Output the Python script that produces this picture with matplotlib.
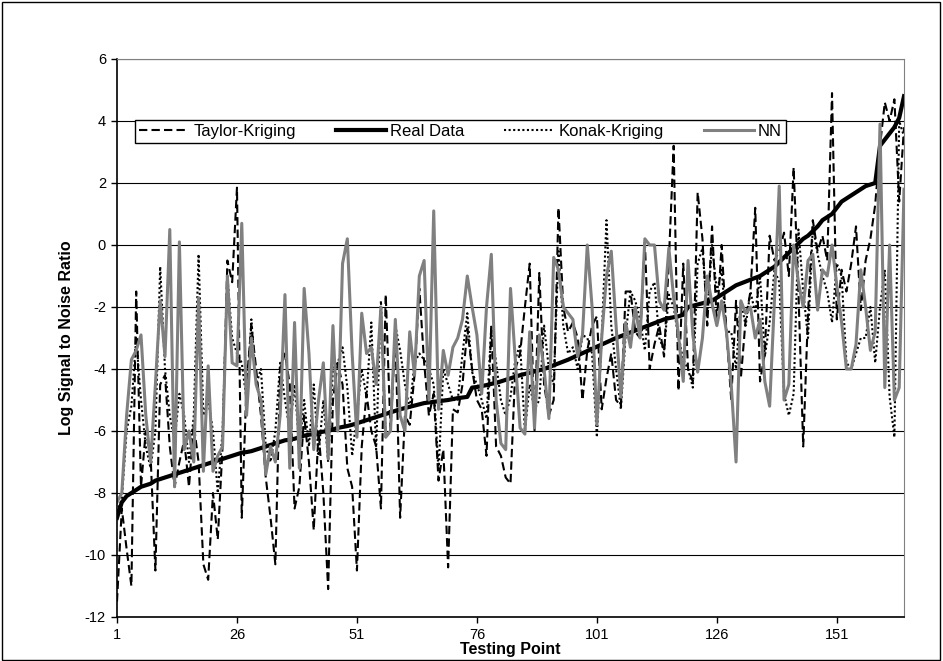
import matplotlib
matplotlib.use("Agg")
import matplotlib.pyplot as plt
import numpy as np
from matplotlib.patches import Rectangle

plt.rcParams["font.family"] = ["Liberation Sans", "DejaVu Sans"]
plt.rcParams["axes.unicode_minus"] = False

# testing points 1..165
points = np.arange(1, 166)

taylor = [
    -11.5, -8.5, -9.8, -11.0, -1.5, -7.8, -6.0, -6.8, -10.5, -4.5,
    -4.2, -6.5, -7.8, -7.0, -6.3, -7.8, -5.8, -7.0, -10.3, -10.8,
    -8.0, -9.5, -6.5, -0.5, -1.2, 1.85, -8.8, -4.5, -2.6, -4.0,
    -5.5, -7.5, -8.8, -10.3, -4.0, -3.5, -4.5, -8.5, -7.8, -5.5,
    -7.0, -9.2, -6.0, -8.0, -11.1, -5.0, -3.8, -4.5, -7.2, -7.8,
    -10.5, -6.5, -4.8, -6.0, -6.5, -8.5, -1.6, -6.0, -2.8, -8.8,
    -5.5, -5.8, -4.2, -1.4, -3.8, -5.5, -4.8, -7.6, -6.6, -10.4,
    -5.3, -5.4, -4.5, -2.7, -4.0, -5.0, -5.3, -6.8, -2.6, -6.5,
    -6.8, -7.5, -7.7, -4.0, -3.5, -2.0, -0.6, -6.0, -0.9, -4.5,
    -5.5, -5.0, 1.2, -2.0, -2.8, -2.5, -3.0, -5.0, -3.4, -2.6,
    -2.3, -5.3, -4.3, -3.5, -5.0, -5.2, -1.5, -1.5, -2.8, -3.0,
    0.1, -4.0, -3.2, -2.6, -3.6, -0.5, 3.2, -4.7, -0.6, -4.0,
    -4.4, 1.7, 0.2, -2.6, 0.6, -2.5, 0.0, -2.8, -5.0, -1.8,
    -4.3, -2.4, -1.5, 1.2, -4.4, -3.5, 0.3, -0.5, -0.2, 0.4,
    -1.0, 2.5, -1.5, -6.5, -2.2, 0.8, -0.2, 0.3, -0.5, 4.9,
    -2.4, -0.8, -1.5, -0.6, 0.6, -2.1, -0.5, 0.2, 1.3, 3.2,
    4.6, 4.0, 4.7, 1.4, 3.8,
]

real_data = [
    -8.8, -8.3, -8.1, -8.0, -7.9, -7.8, -7.75, -7.7, -7.6, -7.55,
    -7.5, -7.45, -7.4, -7.35, -7.3, -7.25, -7.2, -7.15, -7.1, -7.05,
    -7.0, -6.95, -6.9, -6.85, -6.8, -6.75, -6.7, -6.68, -6.65, -6.6,
    -6.55, -6.5, -6.45, -6.4, -6.35, -6.3, -6.28, -6.25, -6.2, -6.15,
    -6.12, -6.1, -6.05, -6.02, -6.0, -5.95, -5.9, -5.87, -5.84, -5.8,
    -5.75, -5.7, -5.65, -5.6, -5.55, -5.5, -5.45, -5.4, -5.35, -5.3,
    -5.26, -5.22, -5.18, -5.14, -5.1, -5.08, -5.06, -5.04, -5.02, -5.0,
    -4.97, -4.94, -4.92, -4.9, -4.6, -4.58, -4.55, -4.52, -4.48, -4.45,
    -4.4, -4.35, -4.3, -4.25, -4.2, -4.16, -4.12, -4.08, -4.04, -4.0,
    -3.94, -3.88, -3.82, -3.76, -3.7, -3.63, -3.56, -3.49, -3.42, -3.35,
    -3.28, -3.21, -3.14, -3.07, -3.0, -2.94, -2.88, -2.82, -2.76, -2.7,
    -2.64, -2.58, -2.52, -2.46, -2.4, -2.36, -2.33, -2.3, -2.25, -2.0,
    -1.96, -1.92, -1.88, -1.84, -1.8, -1.7, -1.6, -1.5, -1.4, -1.3,
    -1.24, -1.18, -1.12, -1.06, -1.0, -0.9, -0.8, -0.7, -0.55, -0.4,
    -0.25, -0.1, 0.05, 0.2, 0.3, 0.45, 0.6, 0.8, 0.9, 1.0,
    1.2, 1.4, 1.5, 1.6, 1.7, 1.8, 1.9, 1.95, 2.0, 3.2,
    3.4, 3.6, 3.8, 4.1, 4.8,
]

konak = [
    -8.6, -8.2, -6.0, -5.2, -3.0, -5.0, -6.5, -7.2, -6.0, -0.7,
    -4.0, -5.5, -6.3, -4.8, -5.5, -7.0, -5.5, -0.3, -5.5, -5.0,
    -6.0, -8.0, -6.0, -1.0, -3.0, -3.5, -3.8, -5.0, -2.4, -4.5,
    -4.0, -6.5, -7.0, -6.0, -3.8, -5.0, -6.0, -4.5, -6.5, -5.0,
    -6.5, -4.5, -6.8, -5.0, -7.0, -4.0, -3.8, -3.3, -4.6, -6.8,
    -5.5, -4.0, -4.9, -2.5, -6.6, -1.8, -6.2, -6.0, -2.6, -3.4,
    -4.5, -5.3, -3.8, -3.5, -3.7, -4.0, -4.5, -7.3, -4.0, -4.5,
    -5.0, -5.0, -3.5, -2.2, -4.1, -4.5, -5.0, -5.6, -2.6, -3.8,
    -5.0, -5.5, -4.9, -3.7, -3.2, -6.0, -4.5, -5.3, -5.0, -2.6,
    -4.0, -4.5, -0.2, -2.6, -3.5, -3.3, -4.0, -2.9, -3.0, -3.5,
    -6.2, -3.0, 0.8, -2.6, -4.0, -5.3, -2.9, -1.5, -1.8, -2.4,
    -3.4, -1.5, -1.2, -3.0, -3.4, -1.6, -2.0, -3.0, -3.7, -4.0,
    -4.6, -0.6, -0.1, -2.2, 0.0, -1.5, -0.8, -2.8, -2.8, -4.0,
    -1.8, -2.6, -1.5, -2.2, -1.0, -3.6, -2.5, -0.8, -1.2, -4.8,
    -5.5, -4.8, 0.5, -1.5, -3.0, 0.6, -0.3, -1.0, -1.5, -2.5,
    -0.6, -1.0, -3.8, -4.0, -3.5, -3.0, -3.0, -2.0, -3.8, -2.0,
    -0.8, -4.9, -6.2, 4.0, 3.5,
]

nn = [
    -8.3, -8.0, -5.5, -3.7, -3.4, -2.9, -5.5, -7.0, -4.5, -1.8,
    -3.6, 0.5, -7.8, 0.1, -6.6, -6.0, -7.0, -1.7, -7.3, -3.9,
    -7.3, -6.8, -6.5, -1.0, -3.8, -3.9, 0.7, -5.5, -3.0, -4.5,
    -5.0, -7.4, -6.5, -7.0, -5.5, -1.6, -7.2, -2.5, -7.2, -1.4,
    -3.5, -6.6, -5.0, -3.8, -6.9, -2.6, -6.0, -0.6, 0.2, -3.5,
    -6.2, -2.2, -3.5, -3.3, -4.5, -2.0, -6.2, -6.0, -2.4, -5.5,
    -6.0, -2.8, -4.2, -1.0, -0.5, -5.0, 1.1, -5.3, -3.4, -4.2,
    -3.3, -3.0, -2.4, -1.0, -2.0, -2.9, -4.8, -2.0, -0.3, -5.0,
    -6.4, -6.6, -1.4, -3.7, -5.9, -6.1, -2.8, -5.9, -2.9, -4.0,
    -5.6, -0.4, -0.8, -2.0, -2.2, -2.4, -3.6, -2.9, 0.0, -2.0,
    -5.8, -3.0, -1.0, -0.2, -2.6, -4.9, -2.5, -3.3, -2.0, -3.0,
    0.2, 0.0, 0.0, -1.8, -2.1, -0.1, -1.7, -2.9, -4.4, -0.5,
    -2.9, -4.1, -3.0, -1.0, -1.9, -2.6, -1.8, -2.8, -4.5, -7.0,
    -1.8, -2.2, -2.0, -3.0, -2.4, -4.4, -5.2, -1.8, 1.9, -5.0,
    -4.5, 0.0, -1.2, -2.0, -0.5, -0.3, -2.1, -0.8, -1.0, 0.0,
    -1.3, -2.5, -4.0, -4.0, -3.2, -0.8, -2.0, -3.4, -2.8, 3.9,
    -4.6, 0.0, -5.0, -4.6, 1.8,
]

x_ticks = [1, 26, 51, 76, 101, 126, 151]
y_ticks = list(range(-12, 7, 2))

assert len(taylor) == len(real_data) == len(konak) == len(nn) == len(points)

fig = plt.figure(figsize=(9.43, 6.61), dpi=100)
fig.patches.append(Rectangle((0.002, 0.002), 0.995, 0.995, transform=fig.transFigure,
                             fill=False, edgecolor="black", linewidth=1.0))

ax = fig.add_axes([117 / 943, 1 - 617 / 661, (904 - 117) / 943, (617 - 59) / 661])

ax.plot(points, taylor, color="black", linestyle=(0, (4, 2)), linewidth=1.5, label="Taylor-Kriging")
ax.plot(points, real_data, color="black", linewidth=3.0, label="Real Data")
ax.plot(points, konak, color="black", linestyle=(0, (1, 1.2)), linewidth=1.5, label="Konak-Kriging")
ax.plot(points, nn, color="#808080", linewidth=2.2, label="NN")

ax.set_xlim(1, 165)
ax.set_ylim(-12, 6)
ax.set_xticks(x_ticks)
ax.set_yticks(y_ticks)
ax.yaxis.grid(True, color="black", linewidth=0.8)
ax.set_axisbelow(True)
for side in ("top", "right"):
    ax.spines[side].set_color("#808080")
for side in ("left", "bottom"):
    ax.spines[side].set_color("black")
    ax.spines[side].set_linewidth(1.2)
ax.tick_params(direction="out", length=4, width=1, labelsize=10.5, pad=4)

ax.set_xlabel("Testing Point", fontsize=11.5, fontweight="bold", labelpad=0)
ax.set_ylabel("Log Signal to Noise Ratio", fontsize=11.5, fontweight="bold", labelpad=8)

leg = ax.legend(loc="center", ncol=4, bbox_to_anchor=(0.023, 0.843, 0.827, 0.053),
                mode="expand", frameon=True, fancybox=False, fontsize=12,
                handlelength=3.0, handletextpad=0.25, columnspacing=1.5,
                borderaxespad=0, borderpad=0.25)
leg.get_frame().set_edgecolor("black")
leg.get_frame().set_linewidth(1.0)
leg.get_frame().set_alpha(1)

fig.savefig("out.png", dpi=100)
